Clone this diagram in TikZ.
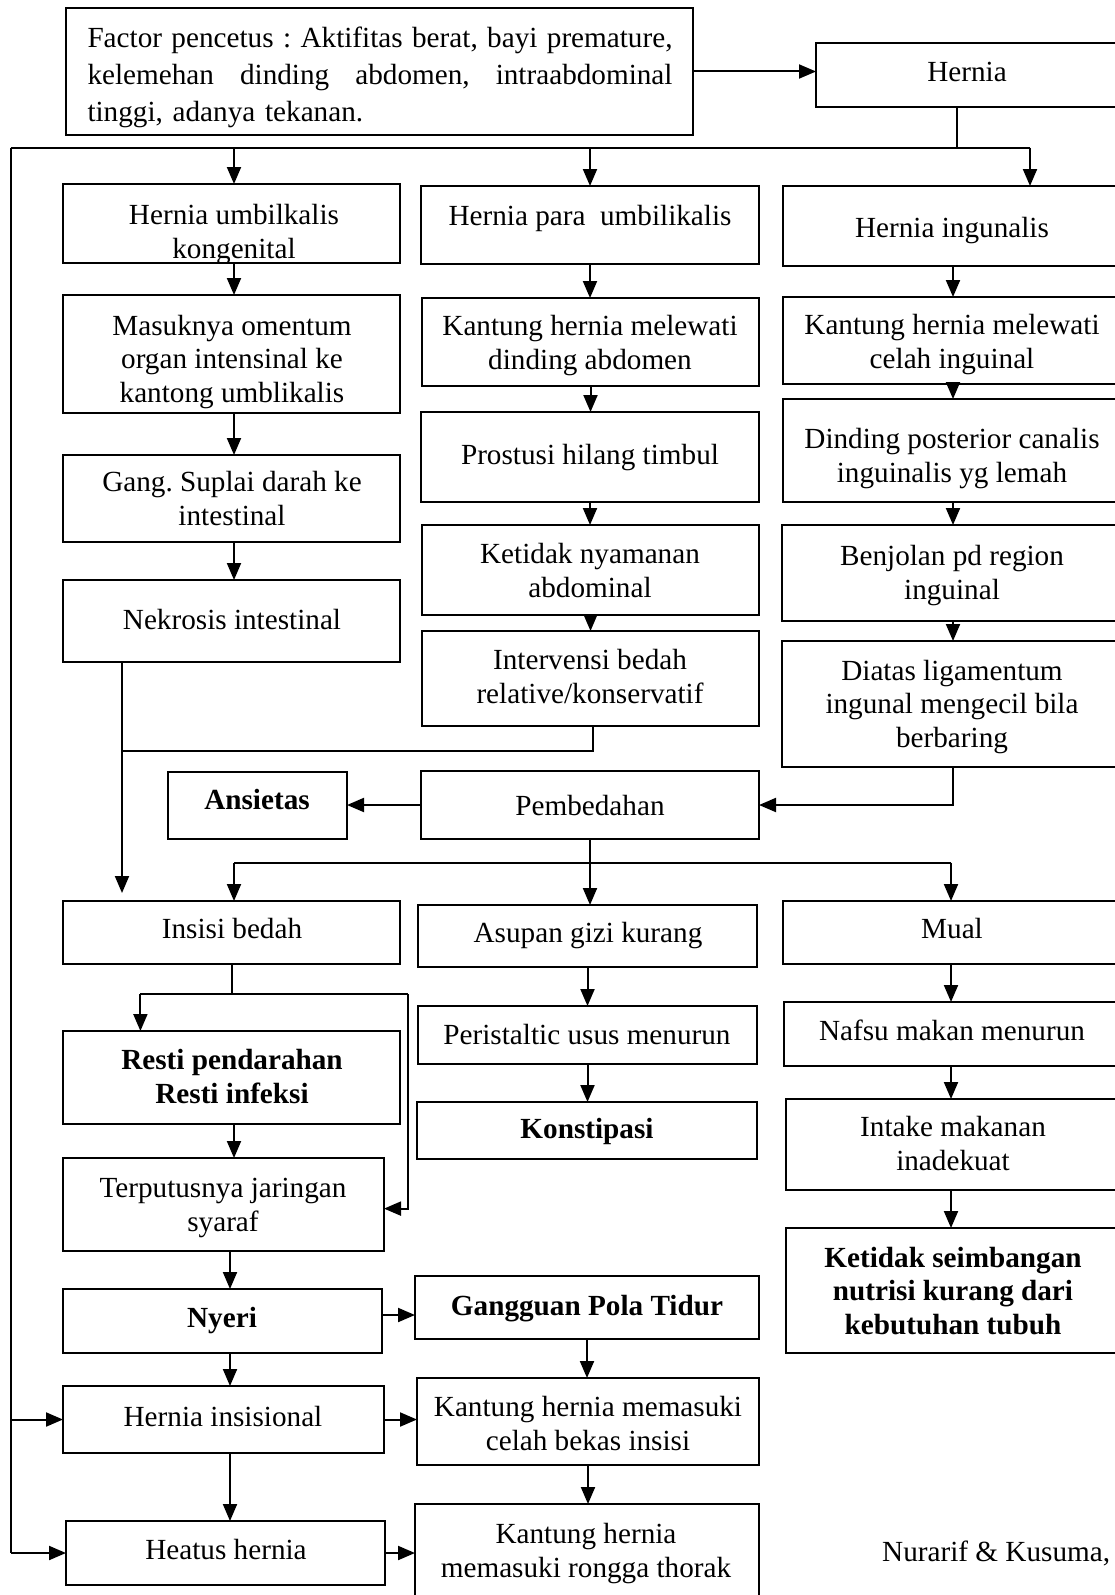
\documentclass[tikz,border=0pt]{standalone}
\usepackage{fontspec}
\setmainfont{Liberation Serif}
\usetikzlibrary{arrows.meta}
\tikzset{
 box/.style={draw, line width=2pt, inner sep=0pt, outer sep=0pt},
 txt/.style={font=\fontsize{29.2}{33.6}\selectfont, align=center, inner sep=0pt},
 btxt/.style={font=\fontsize{29.2}{33.6}\selectfont\bfseries, align=center, inner sep=0pt},
 conn/.style={line width=2pt},
 arr/.style={line width=2pt, -{Triangle[length=17pt,width=14pt]}},
}
\newcommand\bx[5]{\node[box,anchor=north west,minimum width={(#4)-(#2)},minimum height={(#5)-(#3)}] (#1) at (#2,#3) {};}
\begin{document}
\frenchspacing
\begin{tikzpicture}[x=1pt,y=-1pt]
\useasboundingbox (0,0) rectangle (1115,1595);
\clip (0,0) rectangle (1115,1595);
% boxes
\bx{factor}{66}{8}{693}{135}
\bx{hernia}{816}{43}{1130}{107}
\bx{hu}{63}{184}{400}{263}
\bx{mas}{63}{295}{400}{413}
\bx{gang}{63}{455}{400}{542}
\bx{nek}{63}{580}{400}{662}
\bx{hp}{421}{186}{759}{264}
\bx{kd}{422}{298}{759}{386}
\bx{pro}{421}{412}{759}{502}
\bx{ket}{422}{525}{759}{615}
\bx{int}{422}{631}{759}{726}
\bx{hi}{783}{186}{1130}{266}
\bx{kc}{783}{297}{1130}{384}
\bx{din}{783}{399}{1130}{502}
\bx{ben}{782}{525}{1130}{621}
\bx{dia}{782}{641}{1130}{767}
\bx{pem}{421}{771}{759}{839}
\bx{ans}{168}{772}{347}{839}
\bx{ins}{63}{901}{400}{964}
\bx{asu}{418}{905}{757}{967}
\bx{mual}{783}{901}{1130}{964}
\bx{res}{63}{1031}{400}{1124}
\bx{per}{418}{1006}{757}{1064}
\bx{kon}{417}{1102}{757}{1159}
\bx{naf}{784}{1002}{1130}{1066}
\bx{intk}{786}{1099}{1130}{1190}
\bx{kes}{786}{1228}{1130}{1353}
\bx{ter}{63}{1158}{384}{1251}
\bx{nye}{63}{1289}{382}{1353}
\bx{gpt}{415}{1276}{759}{1339}
\bx{his}{63}{1386}{384}{1453}
\bx{kmc}{417}{1378}{759}{1465}
\bx{hea}{66}{1521}{385}{1585}
\bx{kmr}{415}{1504}{759}{1620}
% texts
\begin{scope}
\clip (factor.north west) rectangle (factor.south east);
\node[inner sep=0pt, text width=585pt, align=left, font=\fontsize{29.2}{37}\selectfont] (tfactor) at (380,77)
 {\strut\hbox to 585pt{Factor\hfill pencetus\hfill :\hfill Aktifitas\hfill berat,\hfill bayi\hfill premature,}\\
  \strut\hbox to 585pt{kelemehan\hfill dinding\hfill abdomen,\hfill intraabdominal}\\
  \strut tinggi, adanya tekanan.};
\end{scope}
\node[txt] (thernia) at (967,75) {\strut Hernia};
\begin{scope}
\clip (hu.north west) rectangle (hu.south east);
\node[txt] (thu) at (234,235) {\strut Hernia umbilkalis\\\strut kongenital};
\end{scope}
\begin{scope}
\clip (mas.north west) rectangle (mas.south east);
\node[txt] (tmas) at (232,362) {\strut Masuknya omentum\\\strut organ intensinal ke\\\strut kantong umblikalis};
\end{scope}
\node[txt] (tgang) at (232,502) {\strut Gang. Suplai darah ke\\\strut intestinal};
\node[txt] (tnek) at (232,623) {\strut Nekrosis intestinal};
\node[txt] (thp) at (590,219) {\strut Hernia para\ \ umbilikalis};
\node[txt] (tkd) at (590,346) {\strut Kantung hernia melewati\\\strut dinding abdomen};
\node[txt] (tpro) at (590,458) {\strut Prostusi hilang timbul};
\node[txt] (tket) at (590,574) {\strut Ketidak nyamanan\\\strut abdominal};
\node[txt] (tint) at (590,680) {\strut Intervensi bedah\\\strut relative/konservatif};
\node[txt] (thi) at (952,231) {\strut Hernia ingunalis};
\node[txt] (tkc) at (952,345) {\strut Kantung hernia melewati\\\strut celah inguinal};
\node[txt] (tdin) at (952,459) {\strut Dinding posterior canalis\\\strut inguinalis yg lemah};
\node[txt] (tben) at (952,576) {\strut Benjolan pd region\\\strut inguinal};
\node[txt] (tdia) at (952,707) {\strut Diatas ligamentum\\\strut ingunal mengecil bila\\\strut berbaring};
\node[txt] (tpem) at (590,809) {\strut Pembedahan};
\node[btxt] (tans) at (257,803) {\strut Ansietas};
\node[txt] (tins) at (232,932) {\strut Insisi bedah};
\node[txt] (tasu) at (588,936) {\strut Asupan gizi kurang};
\node[txt] (tmual) at (952,932) {\strut Mual};
\node[btxt] (tres) at (232,1080) {\strut Resti pendarahan\\\strut Resti infeksi};
\node[txt] (tper) at (587,1038) {\strut Peristaltic usus menurun};
\node[btxt] (tkon) at (587,1132) {\strut Konstipasi};
\node[txt] (tnaf) at (952,1034) {\strut Nafsu makan menurun};
\node[txt] (tintk) at (953,1147) {\strut Intake makanan\\\strut inadekuat};
\node[btxt] (tkes) at (953,1294) {\strut Ketidak seimbangan\\\strut nutrisi kurang dari\\\strut kebutuhan tubuh};
\node[txt] (tter) at (223,1208) {\strut Terputusnya jaringan\\\strut syaraf};
\node[btxt] (tnye) at (222,1321) {\strut Nyeri};
\node[btxt] (tgpt) at (587,1309) {\strut Gangguan Pola Tidur};
\node[txt] (this) at (223,1420) {\strut Hernia insisional};
\node[txt] (tkmc) at (588,1427) {\strut Kantung hernia memasuki\\\strut celah bekas insisi};
\node[txt] (thea) at (226,1553) {\strut Heatus hernia};
\node[txt] (tkmr) at (586,1554) {\strut Kantung hernia\\\strut memasuki rongga thorak};
\node[txt, anchor=west] (tnur) at (882,1555) {\strut Nurarif \& Kusuma,};
% coordinates
\coordinate (jtop) at (957,147.5);
\coordinate (lefttop) at (10.5,147.5);
\coordinate (righttop) at (1030,147.5);
\coordinate (lbot) at (10.5,1553);
\coordinate (nx) at (122,0);
\coordinate (ij) at (593,750.8);
\coordinate (pl) at (234,862.7);
\coordinate (pr) at (951,862.7);
\coordinate (il) at (140.4,994);
\coordinate (ir) at (408,994);
\coordinate (c1x) at (234,0);
\coordinate (c1b) at (230,0);
\coordinate (c3x) at (953,0);
% connectors
\draw[arr] (factor.east) -- (hernia.west |- factor.east);
\draw[conn] (jtop |- hernia.south) -- (jtop);
\draw[conn] (lefttop) -- (righttop);
\draw[arr] (c1x |- lefttop) -- (c1x |- hu.north);
\draw[arr] (hp.north |- lefttop) -- (hp.north);
\draw[arr] (righttop) -- (righttop |- hi.north);
% column 1
\draw[arr] (c1x |- hu.south) -- (c1x |- mas.north);
\draw[arr] (c1x |- mas.south) -- (c1x |- gang.north);
\draw[arr] (c1x |- gang.south) -- (c1x |- nek.north);
% column 2
\draw[arr] (hp.south) -- (hp.south |- kd.north);
\draw[arr] (kd.south) -- (kd.south |- pro.north);
\draw[arr] (pro.south) -- (pro.south |- ket.north);
\draw[arr] (ket.south) -- (ket.south |- int.north);
% column 3
\draw[arr] (c3x |- hi.south) -- (c3x |- kc.north);
\draw[arr] (c3x |- kc.south) -- (c3x |- din.north);
\draw[arr] (c3x |- din.south) -- (c3x |- ben.north);
\draw[arr] (c3x |- ben.south) -- (c3x |- dia.north);
\draw[arr] (c3x |- dia.south) -- (c3x |- pem.east) -- (pem.east);
\draw[arr] (pem.west) -- (ans.east |- pem.west);
% merge into insisi
\draw[arr] (nx |- nek.south) -- ([yshift=8pt]nx |- ins.north);
\draw[conn] (ij |- int.south) -- (ij) -- (nx |- ij);
% pembedahan fan
\draw[conn] (pl) -- (pr);
\draw[arr] (pem.south) -- (pem.south |- asu.north);
\draw[arr] (pl) -- (pl |- ins.north);
\draw[arr] (pr) -- (pr |- mual.north);
% insisi fan
\draw[conn] (ins.south) -- (ins.south |- il);
\draw[conn] (il) -- (ir);
\draw[arr] (il) -- (il |- res.north);
\draw[arr] (ir) -- (ir |- 0,1208.6) -- (ter.east |- 0,1208.6);
% lower column 1
\draw[arr] (c1x |- res.south) -- (c1x |- ter.north);
\draw[arr] (c1b |- ter.south) -- (c1b |- nye.north);
\draw[arr] (c1b |- nye.south) -- (c1b |- his.north);
\draw[arr] (c1b |- his.south) -- (c1b |- hea.north);
\draw[arr] ([yshift=6pt]nye.east) -- ([yshift=6pt]nye.east -| gpt.west);
\draw[arr] (his.east) -- (his.east -| kmc.west);
\draw[arr] (hea.east) -- (hea.east -| kmr.west);
% lower column 2
\draw[arr] (asu.south) -- (asu.south |- per.north);
\draw[arr] (per.south) -- (per.south |- kon.north);
\draw[arr] (gpt.south) -- (gpt.south |- kmc.north);
\draw[arr] (kmc.south) -- (kmc.south |- kmr.north);
% lower column 3
\draw[arr] (pr |- mual.south) -- (pr |- naf.north);
\draw[arr] (pr |- naf.south) -- (pr |- intk.north);
\draw[arr] (pr |- intk.south) -- (pr |- kes.north);
% left line
\draw[conn] (lefttop) -- (lbot);
\draw[arr] (lefttop |- his.west) -- (his.west);
\draw[arr] (lbot) -- (hea.west |- lbot);
\end{tikzpicture}
\end{document}
